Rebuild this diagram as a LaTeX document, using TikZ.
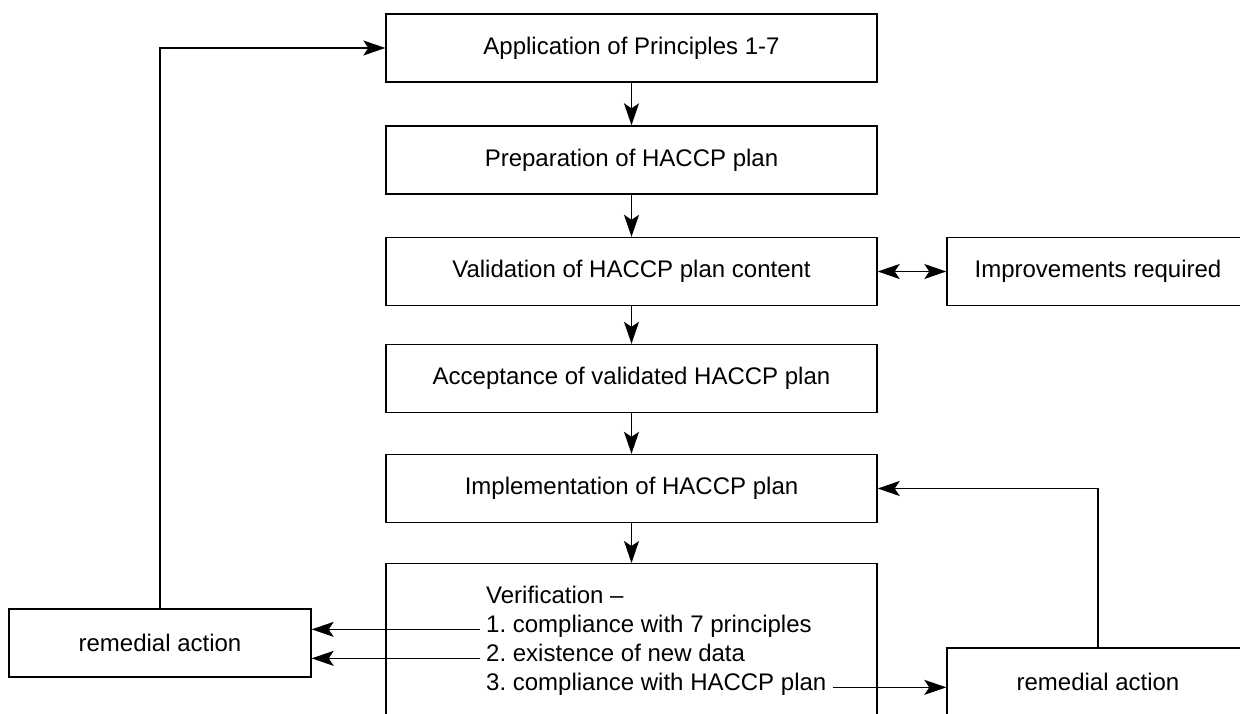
\documentclass[tikz,border=0pt]{standalone}
\usepackage{fontspec}
\setmainfont{Liberation Sans}
\usetikzlibrary{arrows.meta}
\frenchspacing

\begin{document}
\begin{tikzpicture}[x=1pt,y=-1pt,
  box/.style={draw=black,line width=1.4pt,minimum width=491pt,minimum height=68pt,inner sep=0pt,font=\fontsize{24}{29}\selectfont},
  sidebox/.style={box,minimum width=302pt},
  vline/.style={inner xsep=6pt,inner ysep=0pt,anchor=base west,font=\fontsize{24}{29}\selectfont},
  arr/.style={line width=1.4pt,-{Stealth[length=22pt,width=15pt,inset=5pt]}},
  darr/.style={line width=1.4pt,{Stealth[length=22pt,width=15pt,inset=5pt]}-{Stealth[length=22pt,width=15pt,inset=5pt]}}]
\useasboundingbox (0,0) rectangle (1240,714);
\clip (0,0) rectangle (1240,714);
\node [box] (apply) at (631.5,48) {Application of Principles 1-7};
\node [box] (prep) at (631.5,160) {Preparation of HACCP plan};
\node [box] (valid) at (631.5,271.5) {Validation of HACCP plan content};
\node [sidebox] (improve) at (1098,271.5) {Improvements required};
\node [box] (accept) at (631.5,378.5) {Acceptance of validated HACCP plan};
\node [box] (impl) at (631.5,488.5) {Implementation of HACCP plan};
\node [box,minimum height=220pt,anchor=north] (verif) at (631.5,563) {};
\node [vline] (ver0) at (480,603) {Verification --};
\node [vline] (ver1) at (480,632) {1. compliance with 7 principles};
\node [vline] (ver2) at (480,661) {2. existence of new data};
\node [vline] (ver3) at (480,690) {3. compliance with HACCP plan};
\node [sidebox] (remL) at (160,643) {remedial action};
\node [sidebox] (remR) at (1098,682) {remedial action};
\draw [arr] (apply) -- (prep);
\draw [arr] (prep) -- (valid);
\draw [darr] (valid) -- (improve);
\draw [arr] (valid) -- (accept);
\draw [arr] (accept) -- (impl);
\draw [arr] (impl) -- (verif);
\draw [arr] (remL.north) |- (apply.west);
\draw [arr] (remR.north) |- (impl.east);
\draw [arr] (ver1.mid west) -- (remL.east |- ver1.mid west);
\draw [arr] (ver2.mid west) -- (remL.east |- ver2.mid west);
\draw [arr] (ver3.mid east) -- (remR.west |- ver3.mid east);
\end{tikzpicture}
\end{document}
